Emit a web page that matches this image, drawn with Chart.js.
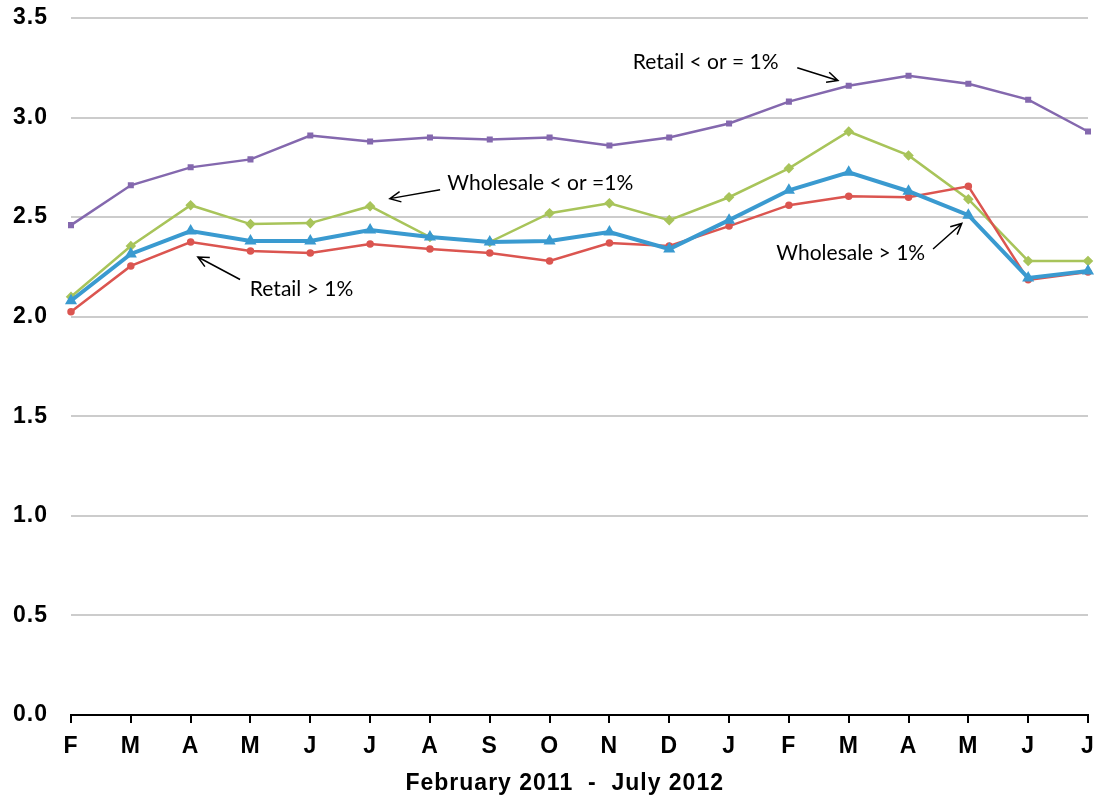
<!DOCTYPE html>
<html>
<head>
<meta charset="utf-8">
<script src="https://cdn.jsdelivr.net/npm/chart.js@4/dist/chart.umd.min.js"></script>
<style>
  html, body { margin: 0; padding: 0; background: #fff; }
  #wrap { width: 1101px; height: 801px; position: relative; }
</style>
</head>
<body>
<div id="wrap"><canvas id="chart"></canvas></div>
<script>
const months = ['F', 'M', 'A', 'M', 'J', 'J', 'A', 'S', 'O', 'N', 'D', 'J', 'F', 'M', 'A', 'M', 'J', 'J'];

const retailLow = [2.46, 2.66, 2.75, 2.79, 2.91, 2.88, 2.90, 2.89, 2.90, 2.86, 2.90, 2.97, 3.08, 3.16, 3.21, 3.17, 3.09, 2.93];
const wholesaleLow = [2.10, 2.355, 2.56, 2.465, 2.47, 2.555, 2.40, 2.375, 2.52, 2.57, 2.485, 2.60, 2.745, 2.93, 2.81, 2.59, 2.28, 2.28];
const wholesaleHigh = [2.08, 2.315, 2.43, 2.38, 2.38, 2.435, 2.40, 2.375, 2.38, 2.425, 2.34, 2.485, 2.635, 2.725, 2.63, 2.51, 2.195, 2.23];
const retailHigh = [2.025, 2.255, 2.375, 2.33, 2.32, 2.365, 2.34, 2.32, 2.28, 2.37, 2.355, 2.455, 2.56, 2.605, 2.60, 2.655, 2.185, 2.225];

const xTitle = 'February 2011  -  July 2012';

// callouts: text anchor (x index, value) and arrow from -> to
const notes = [
    { text: 'Retail < or = 1%',    tx: 9.39,  ty: 3.278, ax: 12.14, ay: 3.25,  bx: 12.82, by: 3.186 },
    { text: 'Wholesale < or =1%',  tx: 6.29,  ty: 2.668, ax: 6.17,  ay: 2.638, bx: 5.33,  by: 2.593 },
    { text: 'Retail > 1%',         tx: 2.99,  ty: 2.136, ax: 2.826, ay: 2.187, bx: 2.12,  by: 2.30 },
    { text: 'Wholesale > 1%',      tx: 11.79, ty: 2.317, ax: 14.41, ay: 2.34,  bx: 14.89, by: 2.468 }
];

// slightly wider axis lettering, like the original
const spacingPlugin = {
    id: 'spacing',
    beforeDraw(chart) { chart.ctx.letterSpacing = '1px'; },
    afterDraw(chart) { chart.ctx.letterSpacing = '0px'; }
};

const calloutPlugin = {
    id: 'callouts',
    afterDatasetsDraw(chart) {
        const ctx = chart.ctx;
        const x = chart.scales.x, y = chart.scales.y;
        ctx.save();
        ctx.letterSpacing = '0px';
        ctx.fillStyle = '#000';
        ctx.strokeStyle = '#000';
        ctx.lineWidth = 1.5;
        ctx.font = '21px Lato';
        ctx.textBaseline = 'middle';
        ctx.textAlign = 'left';
        notes.forEach(n => {
            ctx.fillText(n.text, x.getPixelForValue(n.tx), y.getPixelForValue(n.ty));
            const x1 = x.getPixelForValue(n.ax), y1 = y.getPixelForValue(n.ay);
            const x2 = x.getPixelForValue(n.bx), y2 = y.getPixelForValue(n.by);
            const ang = Math.atan2(y2 - y1, x2 - x1);
            ctx.beginPath();
            ctx.moveTo(x1, y1);
            ctx.lineTo(x2, y2);
            ctx.moveTo(x2 - 12 * Math.cos(ang - 0.45), y2 - 12 * Math.sin(ang - 0.45));
            ctx.lineTo(x2, y2);
            ctx.lineTo(x2 - 12 * Math.cos(ang + 0.45), y2 - 12 * Math.sin(ang + 0.45));
            ctx.stroke();
        });
        ctx.restore();
    }
};

const tickFont = { family: 'Liberation Sans', size: 23, weight: 'bold' };

let chart = new Chart(document.getElementById('chart'), {
    type: 'line',
    data: {
        labels: months,
        datasets: [{
            label: 'Wholesale > 1%',
            data: wholesaleHigh,
            borderColor: '#3A9AD0',
            backgroundColor: '#3A9AD0',
            borderWidth: 4,
            pointStyle: 'triangle',
            pointRadius: 3,
            tension: 0
        }, {
            label: 'Retail > 1%',
            data: retailHigh,
            borderColor: '#DB5550',
            backgroundColor: '#DB5550',
            borderWidth: 2.5,
            pointStyle: 'circle',
            pointRadius: 2.5,
            tension: 0
        }, {
            label: 'Wholesale < or =1%',
            data: wholesaleLow,
            borderColor: '#A8C45A',
            backgroundColor: '#A8C45A',
            borderWidth: 2.5,
            pointStyle: 'rectRot',
            pointRadius: 3.5,
            tension: 0
        }, {
            label: 'Retail < or = 1%',
            data: retailLow,
            borderColor: '#8468AE',
            backgroundColor: '#8468AE',
            borderWidth: 2.5,
            pointStyle: 'rect',
            pointRadius: 2.5,
            tension: 0
        }]
    },
    options: {
        responsive: true,
        maintainAspectRatio: false,
        animation: false,
        layout: { padding: { top: 18, right: 13, left: 0, bottom: 0 } },
        plugins: {
            legend: { display: false },
            tooltip: { enabled: false }
        },
        scales: {
            x: {
                offset: false,
                grid: { drawOnChartArea: false, drawTicks: true, tickLength: 8, color: '#000', lineWidth: 2 },
                border: { display: true, color: '#000', width: 2 },
                ticks: { font: tickFont, color: '#000', padding: 10, maxRotation: 0, autoSkip: false },
                title: { display: true, text: xTitle + '    ', font: tickFont, color: '#000', padding: { top: 2, bottom: 4 } },
                afterFit(scale) {
                    scale.height = 86;
                    scale.paddingLeft = 0;
                    scale.paddingRight = 0;
                }
            },
            y: {
                min: 0,
                max: 3.5,
                ticks: {
                    stepSize: 0.5,
                    font: tickFont,
                    color: '#000',
                    padding: 23,
                    callback: v => v.toFixed(1)
                },
                grid: { color: '#CCCCCC', lineWidth: 2, drawTicks: false },
                border: { display: false },
                afterFit(scale) {
                    scale.width = 71;
                    scale.paddingTop = 0;
                    scale.paddingBottom = 0;
                }
            }
        }
    },
    plugins: [spacingPlugin, calloutPlugin]
});
</script>
</body>
</html>
